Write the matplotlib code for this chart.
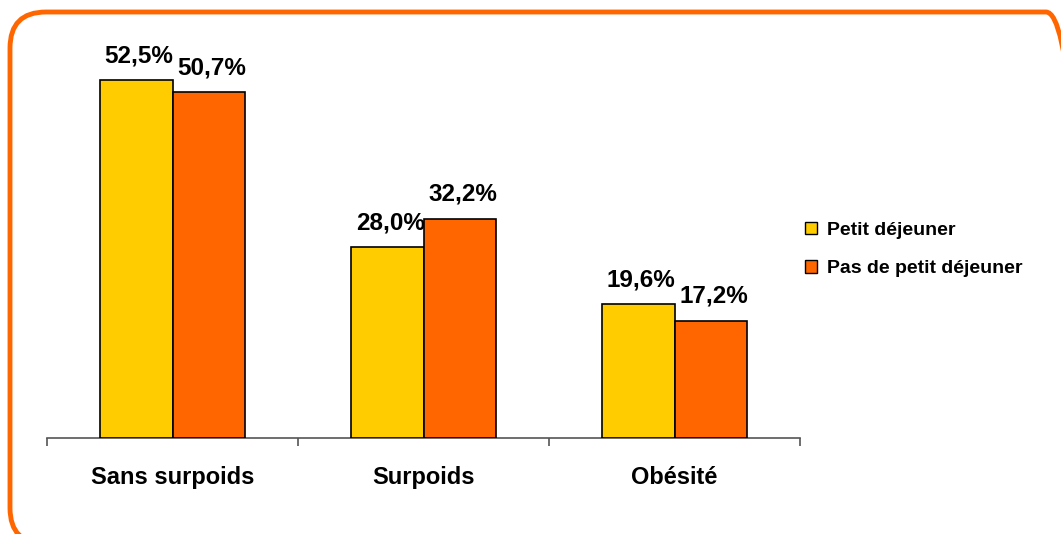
import matplotlib
matplotlib.use('Agg')
import matplotlib.pyplot as plt
import numpy as np
from matplotlib.patches import FancyBboxPatch, Patch

plt.rcParams['font.family'] = ['Liberation Sans', 'DejaVu Sans']
plt.rcParams['font.weight'] = 'bold'

categories = ['Sans surpoids', 'Surpoids', 'Obésité']
series_names = ['Petit déjeuner', 'Pas de petit déjeuner']
petit_dej = [52.5, 28.0, 19.6]
pas_petit_dej = [50.7, 32.2, 17.2]
colors = ['#FFCC00', '#FF6600']

W, H = 1061, 534
fig = plt.figure(figsize=(W / 100, H / 100), dpi=100)

# background axes in pixel units (y up) for the orange rounded frame
bg = fig.add_axes([0, 0, 1, 1], zorder=0)
bg.set_xlim(0, W)
bg.set_ylim(0, H)
bg.axis('off')
bg.add_patch(FancyBboxPatch((10, -10), 1072, 532,
                            boxstyle='round,pad=0,rounding_size=36',
                            facecolor='none', edgecolor='#FF6600',
                            linewidth=3.5, clip_on=False))

ax = fig.add_axes([47 / W, 1 - 438 / H, (800 - 47) / W, 409 / H], zorder=1)
ax.patch.set_alpha(0)

x = np.arange(len(categories))
bw = 0.288
for vals, off, c in [(petit_dej, -bw / 2, colors[0]), (pas_petit_dej, bw / 2, colors[1])]:
    bars = ax.bar(x + off, vals, bw, color=c, edgecolor='black', linewidth=1.2, zorder=3)
    for b, v in zip(bars, vals):
        ax.annotate(f'{v:.1f}%'.replace('.', ','),
                    (b.get_x() + b.get_width() / 2, v),
                    xytext=(2, 13), textcoords='offset points',
                    ha='center', va='baseline', fontsize=17.5, fontweight='bold')

ax.set_xlim(-0.5, 2.5)
ax.set_ylim(0, 60)
for s in ['top', 'right', 'left']:
    ax.spines[s].set_visible(False)
ax.spines['bottom'].set_color('#555555')
ax.spines['bottom'].set_linewidth(1.2)
ax.set_yticks([])

# group boundary ticks, labels on minor ticks at centers
ax.set_xticks([-0.5, 0.5, 1.5, 2.5])
ax.set_xticklabels([])
ax.tick_params(axis='x', which='major', length=6, width=1.2, color='#555555', direction='out')
ax.set_xticks(x, minor=True)
ax.set_xticklabels(categories, minor=True, fontsize=17, fontweight='bold')
ax.tick_params(axis='x', which='minor', length=0, pad=20)

handles = [Patch(facecolor=c, edgecolor='black', linewidth=1.0) for c in colors]
fig.legend(handles, series_names, loc='upper left',
           bbox_to_anchor=(787 / W, 1 - 204 / H), frameon=False,
           handlelength=0.62, handleheight=0.62,
           handletextpad=0.55, labelspacing=1.1,
           prop={'weight': 'bold', 'size': 14})

fig.savefig('out.png', dpi=100)
